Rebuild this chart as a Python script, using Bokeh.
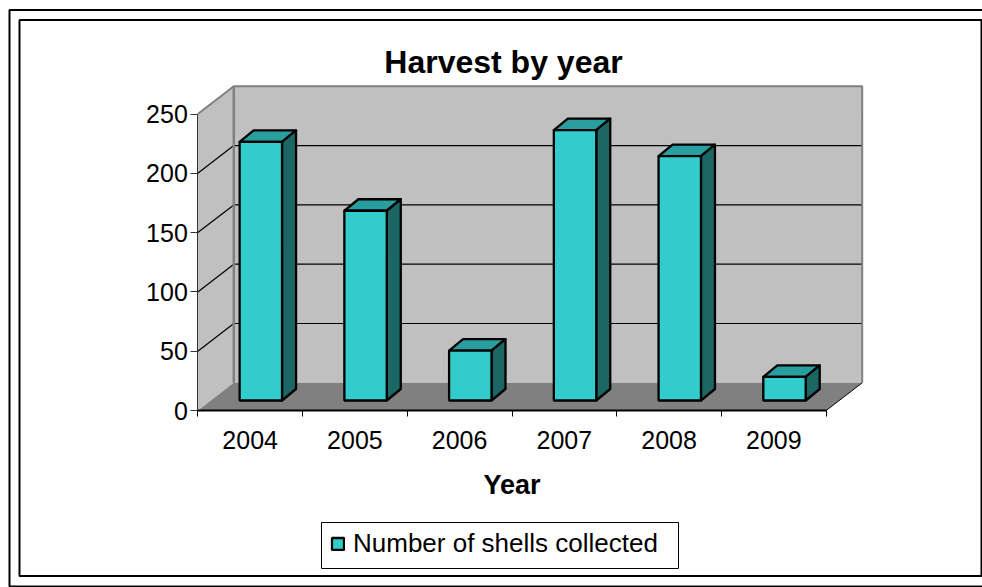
from bokeh.plotting import figure
from bokeh.models import FixedTicker, Legend, LegendItem, BoxAnnotation, Label
from bokeh.embed import file_html
from bokeh.resources import INLINE

years = ["2004", "2005", "2006", "2007", "2008", "2009"]
shells = [218, 160, 42, 228, 206, 20]
series_name = "Number of shells collected"
title_text = "Harvest by year"
x_title = "Year"
y_ticks = [0, 50, 100, 150, 200, 250]

FONT = "Liberation Sans"
W, H = 982, 587
X0, Y0 = 197.3, 410        # pixel of the origin
PX_CAT = 628.4 / 6
PX_VAL = 296.5 / 250
DEPTH_X = 36 / PX_CAT
DEPTH_Y = 27.7 / PX_VAL
BASE_X = 10.67 / PX_CAT
BASE_Y = 10 / PX_VAL
BAR_DX = 14 / PX_CAT
BAR_DY = 11.5 / PX_VAL
BAR_W = 42.4 / PX_CAT
N = len(years)
YMAX = y_ticks[-1]

p = figure(width=W, height=H, output_backend="svg", toolbar_location=None,
           x_range=(-X0 / PX_CAT, (W - X0) / PX_CAT),
           y_range=(-(H - Y0) / PX_VAL, Y0 / PX_VAL),
           min_border=0, outline_line_color=None,
           background_fill_color="white", border_fill_color="white")
p.grid.visible = False

WALL = "#c0c0c0"
FLOOR = "#808080"
EDGE = "#808080"
p.patch([0, DEPTH_X, DEPTH_X, 0], [0, DEPTH_Y, YMAX + DEPTH_Y, YMAX], fill_color=WALL, line_color=None)
p.patch([DEPTH_X, N + DEPTH_X, N + DEPTH_X, DEPTH_X],
        [DEPTH_Y, DEPTH_Y, YMAX + DEPTH_Y, YMAX + DEPTH_Y], fill_color=WALL, line_color=None)
p.patch([0, N, N + DEPTH_X, DEPTH_X], [0, 0, DEPTH_Y, DEPTH_Y], fill_color=FLOOR, line_color=None)
for v in y_ticks[1:-1]:
    p.line([0, DEPTH_X, N + DEPTH_X], [v, v + DEPTH_Y, v + DEPTH_Y], line_color="black", line_width=1.2)
p.line([0, DEPTH_X, N + DEPTH_X, N + DEPTH_X], [YMAX, YMAX + DEPTH_Y, YMAX + DEPTH_Y, DEPTH_Y],
       line_color=EDGE, line_width=2)
p.line([DEPTH_X, DEPTH_X], [DEPTH_Y, YMAX + DEPTH_Y], line_color=EDGE, line_width=2.5)
p.line([N, N + DEPTH_X], [0, DEPTH_Y], line_color="black", line_width=1)

front = None
for i, v in enumerate(shells):
    l = i + 0.5 + BASE_X - BAR_W / 2
    r = l + BAR_W
    b = BASE_Y
    t = v + BASE_Y
    p.patch([l, r, r + BAR_DX, l + BAR_DX], [t, t, t + BAR_DY, t + BAR_DY],
            fill_color="#299e9e", line_color="black", line_width=2.3, line_join="round")
    p.patch([r, r + BAR_DX, r + BAR_DX, r], [b, b + BAR_DY, t + BAR_DY, t],
            fill_color="#1c6666", line_color="black", line_width=2.3, line_join="round")
    q = p.quad(left=l, right=r, bottom=b, top=t, fill_color="#33cccc", line_color="black", line_width=2.3)
    front = front or q

xa = p.xaxis[0]
xa.fixed_location = 0
xa.bounds = (0, N)
xa.ticker = FixedTicker(ticks=[i + 0.5 for i in range(N)], minor_ticks=list(range(N + 1)))
xa.major_label_overrides = {i + 0.5: y for i, y in enumerate(years)}
xa.major_tick_out = 0
xa.major_tick_in = 0
xa.minor_tick_out = 6
xa.minor_tick_in = 0
xa.minor_tick_line_color = "black"
xa.axis_line_color = "black"
xa.axis_line_width = 2
xa.major_label_text_font = FONT
xa.major_label_text_font_size = "25px"
xa.major_label_text_color = "black"
xa.major_label_standoff = 14
xa.axis_label = x_title
xa.axis_label_text_font = FONT
xa.axis_label_text_font_size = "27px"
xa.axis_label_text_font_style = "bold"
xa.axis_label_text_color = "black"
xa.axis_label_standoff = 18

ya = p.yaxis[0]
ya.fixed_location = 0
ya.bounds = (0, YMAX)
ya.ticker = FixedTicker(ticks=y_ticks)
ya.major_tick_out = 7
ya.major_tick_in = 0
ya.minor_tick_out = 0
ya.minor_tick_in = 0
ya.major_tick_line_color = "#333333"
ya.axis_line_color = "#333333"
ya.axis_line_width = 1
ya.major_label_text_font = FONT
ya.major_label_text_font_size = "25px"
ya.major_label_text_color = "black"
ya.major_label_standoff = 3

p.add_layout(Label(x=503, y=H - 61, x_units="screen", y_units="screen", text=title_text,
                   text_font=FONT, text_font_size="32px", text_font_style="bold",
                   text_color="black", text_align="center", text_baseline="middle"))

leg = Legend(items=[LegendItem(label=series_name, renderers=[front])],
             location=(330, H - 559), orientation="horizontal",
             label_text_font=FONT, label_text_font_size="26px", label_text_color="black",
             glyph_width=15, glyph_height=15, label_standoff=8, padding=8, margin=0,
             spacing=0, border_line_color=None,
             background_fill_color="white", background_fill_alpha=0)
p.add_layout(leg, "center")

for (a, b, c, d, lw) in [(9, 9.5, 995, 586, 2), (19, 19.5, 981, 575.5, 2), (321, 522, 678, 568, 1)]:
    p.add_layout(BoxAnnotation(left=a, right=c, top=H - b, bottom=H - d,
                               left_units="screen", right_units="screen",
                               top_units="screen", bottom_units="screen",
                               fill_color=None, fill_alpha=0,
                               line_color="black", line_alpha=1, line_width=lw))

open("out.html", "w").write(file_html(p, INLINE))
